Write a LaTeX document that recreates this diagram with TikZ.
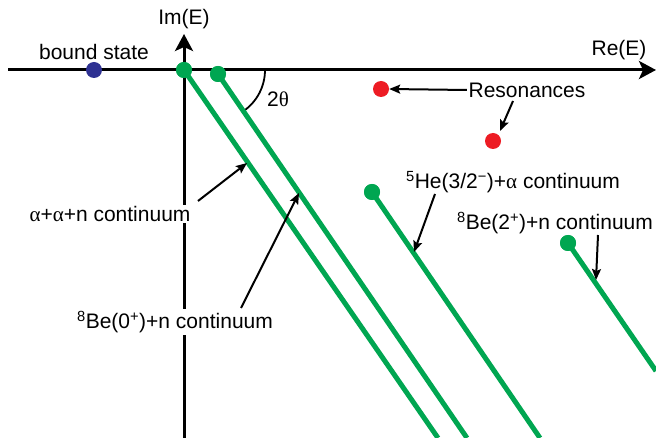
\documentclass[tikz,border=0pt]{standalone}
\usepackage{fontspec}
\setmainfont{Liberation Sans}
\newfontfamily\grk{Liberation Serif}
\usetikzlibrary{arrows.meta}
\definecolor{cgreen}{HTML}{00A651}
\definecolor{cred}{HTML}{ED1C24}
\definecolor{cblue}{HTML}{2E3192}
\begin{document}
\begin{tikzpicture}[x=1pt,y=-1pt,
 axis/.style={line width=3pt, -{Stealth[length=17pt,width=18pt,inset=4pt]}},
 cont/.style={cgreen, line width=5pt},
 dot/.style={circle, inner sep=0pt, minimum size=16pt},
 lbl/.style={font=\fontsize{21}{25}\selectfont, inner sep=1.5pt, fill=white},
 ptr/.style={line width=2pt, -{Stealth[length=11pt,width=9pt,inset=2pt]}},
]
\useasboundingbox (0,0) rectangle (656,438);
% axes
\coordinate (xl) at (8,70);
\coordinate (xr) at (656,70);
\coordinate (yb) at (184,438);
\coordinate (yt) at (184,34);
\draw[axis] (xl) -- (xr);
\draw[axis] (yb) -- (yt);
\node[lbl, fill=none] (im) at (184,19) {Im(E)};
\node[lbl, fill=none] (re) at (619,50) {Re(E)};
% angle
\draw[line width=1.8pt] (265,70) arc[start angle=0, end angle=55, radius=50];
\node[lbl, fill=none] (ang) at (278,99) {2{\grk θ}};
% continua
\node[dot, fill=cgreen] (g1) at (184,70) {};
\node[dot, fill=cgreen] (g2) at (218,74) {};
\node[dot, fill=cgreen] (g3) at (372,192) {};
\node[dot, fill=cgreen] (g4) at (568,243) {};
\coordinate (e1) at (438,438);
\coordinate (e2) at (467,438);
\coordinate (e3) at (540,438);
\coordinate (e4) at (656,371);
\draw[cont] (g1.center) -- (e1);
\draw[cont] (g2.center) -- (e2);
\draw[cont] (g3.center) -- (e3);
\draw[cont] (g4.center) -- (e4);
\node[dot, fill=cgreen] at (g1) {};
\node[dot, fill=cgreen] at (g2) {};
\node[dot, fill=cgreen] at (g3) {};
\node[dot, fill=cgreen] at (g4) {};
% bound state
\node[dot, fill=cblue] (bs) at (94,70) {};
\node[lbl, fill=none] (bsl) at (94,52) {bound state};
% resonances
\node[dot, fill=cred] (r1) at (381,89) {};
\node[dot, fill=cred] (r2) at (493,141) {};
\node[lbl, fill=none] (resl) at (527,90) {Resonances};
\draw[ptr] (resl.west) -- (r1.east);
\draw[ptr] (513,101) -- (500,131);
% labels
\node[lbl] (l1) at (110,214) {{\grk α}+{\grk α}+n continuum};
\node[lbl] (l2) at (175,322) {\textsuperscript{8}Be(0\textsuperscript{+})+n continuum};
\node[lbl, fill=none] (l3) at (513,182) {\textsuperscript{5}He(3/2\textsuperscript{−})+{\grk α} continuum};
\node[lbl, fill=none] (l4) at (555,223) {\textsuperscript{8}Be(2\textsuperscript{+})+n continuum};
\coordinate (t1) at (247,163);
\coordinate (t2) at (299,193);
\coordinate (t3) at (414,252);
\coordinate (t4) at (596,280);
\draw[ptr] (198,201) -- (t1);
\draw[ptr] (241,308) -- (t2);
\draw[ptr] (435,194) -- (t3);
\draw[ptr] (598,235) -- (t4);
\end{tikzpicture}
\end{document}
